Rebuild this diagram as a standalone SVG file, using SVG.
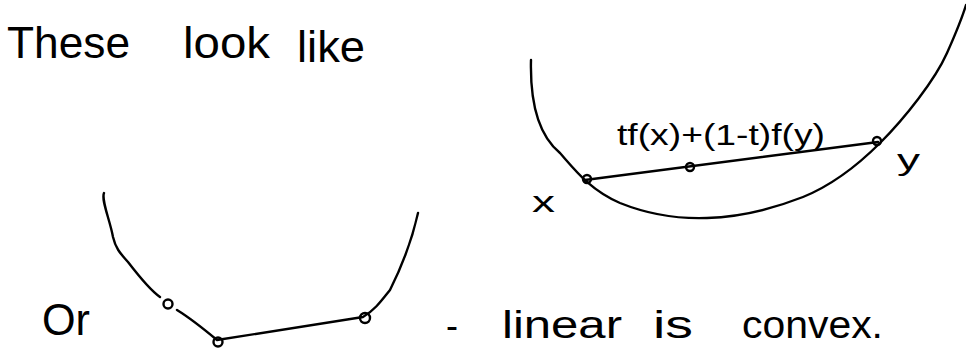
<svg xmlns="http://www.w3.org/2000/svg" width="966" height="350" viewBox="0 0 966 350">
<style>
.ink{fill:none;stroke:#000;stroke-width:2.4;stroke-linecap:round;stroke-linejoin:round}
.dot{fill:none;stroke:#000;stroke-width:2.4}
.t{font-family:"Liberation Sans",Arial,sans-serif;fill:#000}
</style>
<rect width="966" height="350" fill="#fff"/>
<g id="heading">
<text class="t" x="7" y="58" font-size="44" textLength="123" lengthAdjust="spacingAndGlyphs">These</text>
<text class="t" x="183" y="58" font-size="44" textLength="87" lengthAdjust="spacingAndGlyphs">look</text>
<text class="t" x="297" y="62" font-size="44" textLength="68" lengthAdjust="spacingAndGlyphs">like</text>
</g>
<g id="convex-curve">
<path class="ink" d="M531,60 C530,100 538,135 560,153 C575,170 590,190 620,203 C650,215 680,219 707,218 C740,217 775,208 803,197 C830,186 855,168 880,143 C905,118 935,80 947,53 C955,35 962,18 966,5"/>
<path class="ink" d="M585,180 L878,142"/>
<circle class="dot" cx="587" cy="179" r="4"/>
<circle class="dot" cx="690" cy="167" r="4"/>
<circle class="dot" cx="877" cy="141" r="4"/>
<text class="t" x="617" y="145" font-size="30" textLength="208" lengthAdjust="spacingAndGlyphs">tf(x)+(1-t)f(y)</text>
<text class="t" x="532" y="212" font-size="30" textLength="23" lengthAdjust="spacingAndGlyphs">x</text>
<text class="t" x="897" y="170" font-size="30" textLength="23" lengthAdjust="spacingAndGlyphs">y</text>
</g>
<g id="piecewise-curve">
<path class="ink" d="M104,193 C101,200 110,220 113,237 C116,250 122,255 128,262 C138,275 150,290 160,297"/>
<path class="ink" d="M177,310 C190,318 205,330 217,340 L363,317 C375,310 382,300 390,290 C400,270 412,240 418,213"/>
<circle class="dot" cx="168" cy="304" r="4.5"/>
<circle class="dot" cx="218" cy="342" r="4.5"/>
<circle class="dot" cx="365" cy="318" r="5"/>
</g>
<g id="caption">
<text class="t" x="42" y="335" font-size="44" textLength="48" lengthAdjust="spacingAndGlyphs">Or</text>
<text class="t" x="446" y="338" font-size="36">-</text>
<text class="t" x="502" y="338" font-size="38" textLength="120" lengthAdjust="spacingAndGlyphs">linear</text>
<text class="t" x="653" y="338" font-size="38" textLength="40" lengthAdjust="spacingAndGlyphs">is</text>
<text class="t" x="742" y="338" font-size="38" textLength="141" lengthAdjust="spacingAndGlyphs">convex.</text>
</g>
</svg>
